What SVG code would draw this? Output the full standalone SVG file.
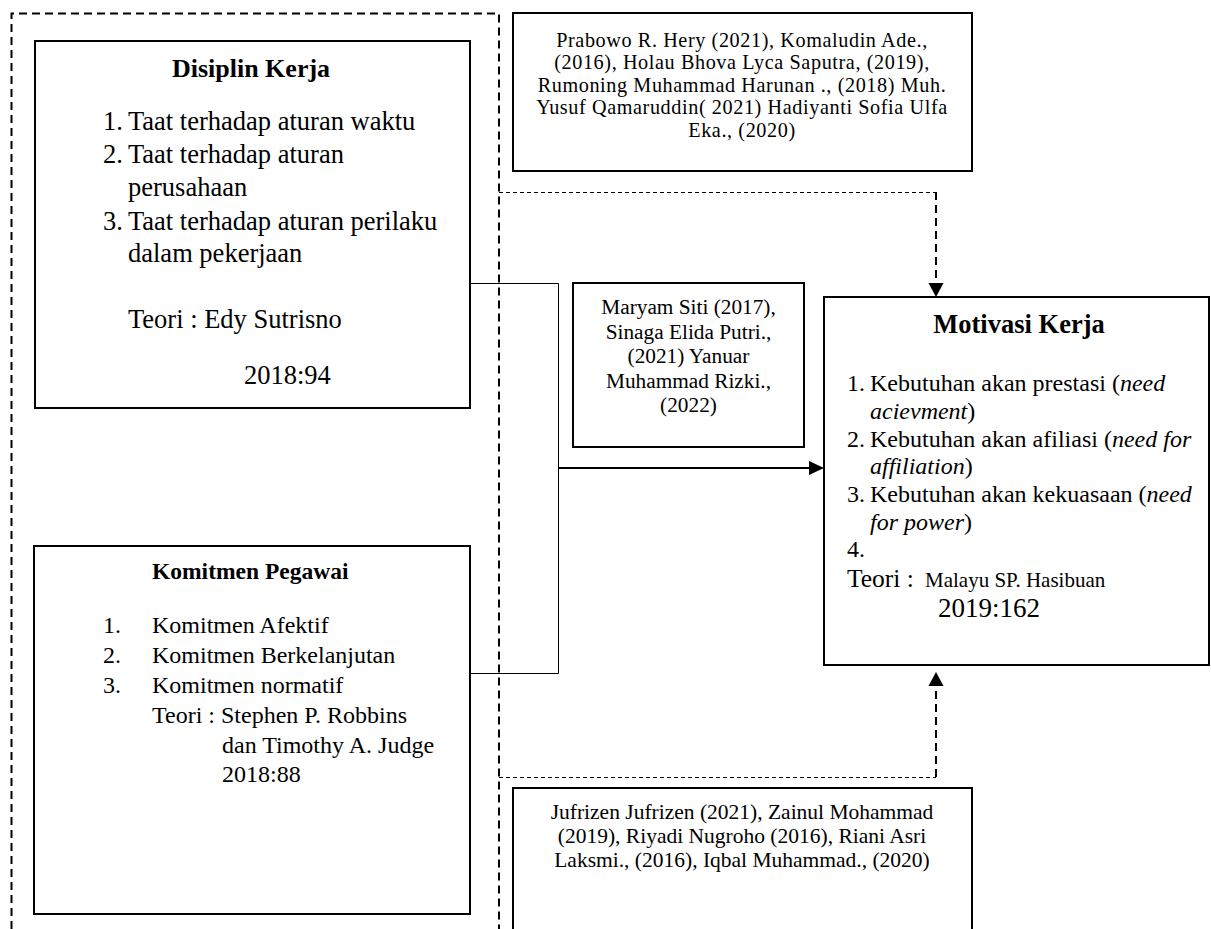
<svg xmlns="http://www.w3.org/2000/svg" width="1211" height="929" viewBox="0 0 1211 929">
<style>
text{font-family:"Liberation Serif","Times New Roman",serif;fill:#000}
.box{fill:#fff;stroke:#000;stroke-width:2}
.bold{font-weight:bold}
.c{text-anchor:middle}
.thin{fill:none;stroke:#000;stroke-width:1}
.thick{fill:none;stroke:#000;stroke-width:2}
.dlong{fill:none;stroke:#000;stroke-width:2;stroke-dasharray:8 5}
.dshort{fill:none;stroke:#000;stroke-width:1;stroke-dasharray:4 3}
.ah{fill:#000}
</style>
<rect width="1211" height="929" fill="#fff"/>
<g id="outer-frame">
<path class="dlong" d="M11.5,929 V13.5 H499 V929"/>
</g>
<g id="connectors">
<path class="thin" d="M470,283.5 H558.5 V673.5 H470"/>
<path class="thick" d="M558,468 H811"/>
<polygon class="ah" points="824,468 809,461 809,475"/>
<path class="dshort" d="M499,192.5 H936"/>
<path class="dlong" d="M936,192 V284"/>
<polygon class="ah" points="936,297 928.5,283 943.5,283"/>
<path class="dshort" d="M499,777.5 H936"/>
<path class="dlong" d="M936,777 V685"/>
<polygon class="ah" points="936,672 928.5,686 943.5,686"/>
</g>
<g id="disiplin-kerja">
<rect class="box" x="35" y="41" width="435" height="367"/>
<text class="bold c" x="251" y="77" font-size="26">Disiplin Kerja</text>
<g font-size="26.5">
<text x="103" y="130">1.</text><text x="128" y="130">Taat terhadap aturan waktu</text>
<text x="103" y="163">2.</text><text x="128" y="163">Taat terhadap aturan</text>
<text x="128" y="196">perusahaan</text>
<text x="103" y="230">3.</text><text x="128" y="230">Taat terhadap aturan perilaku</text>
<text x="128" y="262">dalam pekerjaan</text>
<text x="128" y="328">Teori : Edy Sutrisno</text>
<text x="244" y="384">2018:94</text>
</g>
</g>
<g id="komitmen-pegawai">
<rect class="box" x="34" y="546" width="436" height="368"/>
<text class="bold" x="152" y="579" font-size="23.5">Komitmen Pegawai</text>
<g font-size="24">
<text x="103" y="633">1.</text><text x="152" y="633">Komitmen Afektif</text>
<text x="103" y="663">2.</text><text x="152" y="663">Komitmen Berkelanjutan</text>
<text x="103" y="693">3.</text><text x="152" y="693">Komitmen normatif</text>
<text x="152" y="723">Teori : Stephen P. Robbins</text>
<text x="222" y="753">dan Timothy A. Judge</text>
<text x="222" y="782">2018:88</text>
</g>
</g>
<g id="ref-top">
<rect class="box" x="513" y="13" width="459" height="158"/>
<g class="c" font-size="20.2" letter-spacing="0.6">
<text x="742" y="46.5">Prabowo R. Hery (2021), Komaludin Ade.,</text>
<text x="742" y="69">(2016), Holau Bhova Lyca Saputra, (2019),</text>
<text x="742" y="91.5">Rumoning Muhammad Harunan ., (2018) Muh.</text>
<text x="742" y="114">Yusuf Qamaruddin( 2021) Hadiyanti Sofia Ulfa</text>
<text x="742" y="136.5">Eka., (2020)</text>
</g>
</g>
<g id="ref-middle">
<rect class="box" x="573" y="283" width="231" height="164"/>
<g class="c" font-size="21.3">
<text x="688.5" y="314">Maryam Siti (2017),</text>
<text x="688.5" y="338.5">Sinaga Elida Putri.,</text>
<text x="688.5" y="363">(2021) Yanuar</text>
<text x="688.5" y="387.5">Muhammad Rizki.,</text>
<text x="688.5" y="412">(2022)</text>
</g>
</g>
<g id="motivasi-kerja">
<rect class="box" x="824" y="297" width="385" height="368"/>
<text class="bold c" x="1019" y="333" font-size="26.5">Motivasi Kerja</text>
<g font-size="24">
<text x="847" y="391">1.</text><text x="870" y="391">Kebutuhan akan prestasi (<tspan font-style="italic">need</tspan></text>
<text x="870" y="418.5"><tspan font-style="italic">acievment</tspan>)</text>
<text x="847" y="446.5">2.</text><text x="870" y="446.5">Kebutuhan akan afiliasi (<tspan font-style="italic">need for</tspan></text>
<text x="870" y="474"><tspan font-style="italic">affiliation</tspan>)</text>
<text x="847" y="502">3.</text><text x="870" y="502">Kebutuhan akan kekuasaan (<tspan font-style="italic">need</tspan></text>
<text x="870" y="529.5"><tspan font-style="italic">for power</tspan>)</text>
<text x="847" y="557">4.</text>
</g>
<text x="847" y="587" font-size="25.5">Teori : <tspan x="925" font-size="21">Malayu SP. Hasibuan</tspan></text>
<text x="938" y="617" font-size="27">2019:162</text>
</g>
<g id="ref-bottom">
<path class="box" d="M513,929 V788 H972 V929"/>
<g class="c" font-size="21.5">
<text x="742" y="819">Jufrizen Jufrizen (2021), Zainul Mohammad</text>
<text x="742" y="843">(2019), Riyadi Nugroho (2016), Riani Asri</text>
<text x="742" y="867">Laksmi., (2016), Iqbal Muhammad., (2020)</text>
</g>
</g>
</svg>
